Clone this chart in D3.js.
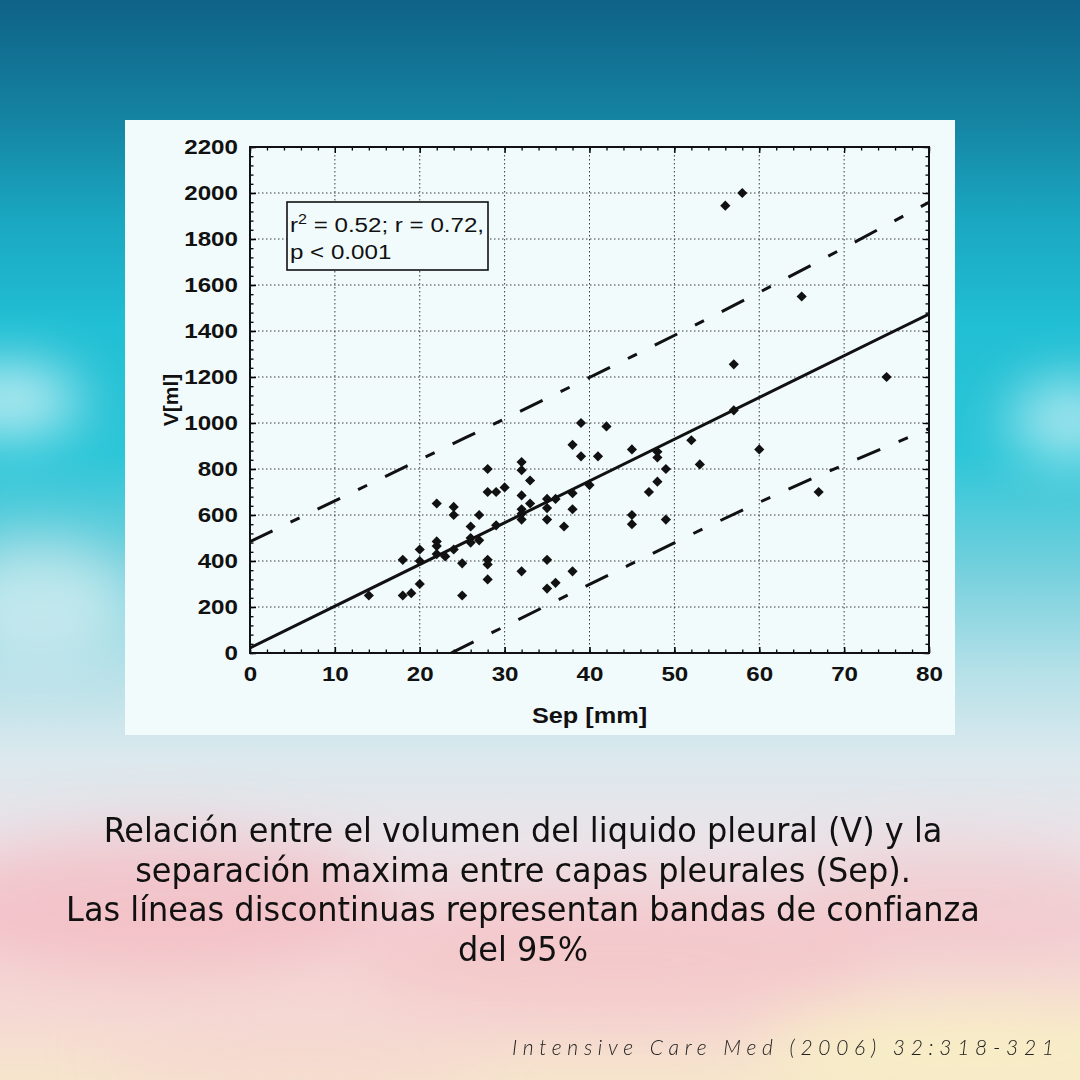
<!DOCTYPE html>
<html lang="es">
<head>
<meta charset="utf-8">
<title>Volumen pleural vs separación</title>
<script src="https://cdn.jsdelivr.net/npm/d3@7"></script>
<style>
  html, body { margin: 0; padding: 0; }
  body { width: 1080px; height: 1080px; overflow: hidden; }
</style>
</head>
<body>
<div id="chart"></div>
<script>
// Separación entre capas pleurales (mm) y volumen (ml) de cada paciente
const sep = [14, 18, 18, 19, 20, 20, 20, 22, 22, 22, 22, 23, 24, 24, 24, 25, 25,
  26, 26, 26, 27, 27, 28, 28, 28, 28, 28, 29, 29, 30, 32, 32, 32, 32, 32, 32, 32,
  33, 33, 35, 35, 35, 35, 35, 36, 36, 37, 38, 38, 38, 38, 39, 39, 40, 41, 42,
  45, 45, 45, 47, 48, 48, 48, 49, 49, 52, 53, 56, 57, 57, 58, 60, 65, 67, 75];
const vol = [250, 405, 250, 260, 450, 400, 300, 650, 485, 465, 430, 420, 635, 600, 450, 390, 250,
  550, 500, 480, 600, 490, 800, 700, 405, 385, 320, 700, 555, 720, 830, 795, 685, 625, 605, 580, 355,
  750, 650, 670, 630, 580, 405, 280, 670, 305, 550, 905, 695, 625, 355, 1000, 855, 730, 855, 985,
  885, 600, 560, 700, 875, 850, 745, 800, 580, 925, 820, 1945, 1255, 1055, 2000, 885, 1550, 700, 1200];

// Recta de regresión y bandas de confianza del 95%
const fitSep = [0, 80];
const fitVol = [22, 1474];
const upperSep = [0, 20, 40, 60, 80];
const upperVol = [484, 840, 1198, 1568, 1960];
const lowerSep = [23.7, 40, 60, 80];
const lowerVol = [0, 298, 655, 975];

// Ticks
const xTicks = [0, 10, 20, 30, 40, 50, 60, 70, 80];
const yTicks = [0, 200, 400, 600, 800, 1000, 1200, 1400, 1600, 1800, 2000, 2200];
const xMinor = d3.range(0, 81, 2);
const yMinor = d3.range(0, 2201, 40);

// Textos
const statsLine1 = ["r", "2", " = 0.52; r = 0.72,"];
const statsLine2 = "p < 0.001";
const xTitle = "Sep [mm]";
const yTitle = "V[ml]";
const caption = [
  "Relación entre el volumen del liquido pleural (V) y la",
  "separación maxima entre capas pleurales (Sep).",
  "Las líneas discontinuas representan bandas de confianza",
  "del 95%"
];
const cite = "Intensive Care Med (2006) 32:318-321";

// Tamaño
const width = 1080;
const height = 1080;

// Área del gráfico (marco negro)
const plot = { left: 250, top: 147, right: 929, bottom: 653 };
const stretch = "scale(1.15,1)";
const axisFont = "'Liberation Sans', Arial, sans-serif";

const svg = d3.select("#chart")
  .append("svg")
  .attr("width", width)
  .attr("height", height);

const defs = svg.append("defs");

// Fondo: cielo de turquesa a rosado
const sky = defs.append("linearGradient")
  .attr("id", "sky")
  .attr("x1", 0).attr("y1", 0).attr("x2", 0).attr("y2", 1);
[
  [0, "#0f6288"], [0.1, "#14809f"], [0.2, "#1aa6c0"], [0.3, "#21bfd4"],
  [0.42, "#2cc6d8"], [0.52, "#6fcfdc"], [0.62, "#b4e0e8"], [0.7, "#dbe9ee"],
  [0.78, "#ebe3e8"], [0.86, "#f4d2d6"], [0.94, "#f5d9d4"], [1, "#f6e5cc"]
].forEach(s => sky.append("stop").attr("offset", s[0]).attr("stop-color", s[1]));

defs.append("filter")
  .attr("id", "blur")
  .attr("x", "-50%").attr("y", "-50%").attr("width", "200%").attr("height", "200%")
  .append("feGaussianBlur")
  .attr("stdDeviation", 28);

svg.append("rect")
  .attr("width", width)
  .attr("height", height)
  .attr("fill", "url(#sky)");

// Nubes
const clouds = svg.append("g").attr("filter", "url(#blur)");
[
  [10, 400, 70, 35, "#ffffff", 0.7],
  [1070, 420, 60, 40, "#ffffff", 0.6],
  [40, 600, 90, 60, "#e6f3f5", 0.6],
  [160, 900, 220, 70, "#f2b5bb", 0.55],
  [620, 960, 260, 60, "#f3bcc0", 0.45],
  [960, 900, 160, 60, "#f1c0c4", 0.4],
  [980, 1050, 220, 50, "#f8f0c4", 0.8],
  [300, 1060, 200, 40, "#f6d2d2", 0.5]
].forEach(c => clouds.append("ellipse")
  .attr("cx", c[0]).attr("cy", c[1])
  .attr("rx", c[2]).attr("ry", c[3])
  .attr("fill", c[4]).attr("opacity", c[5]));

// Panel claro detrás del gráfico
svg.append("rect")
  .attr("x", 125)
  .attr("y", 120)
  .attr("width", 830)
  .attr("height", 615)
  .attr("fill", "#f1fbfc");

// Escalas
const xScale = d3.scaleLinear()
  .domain([0, 80])
  .range([plot.left, plot.right]);

const yScale = d3.scaleLinear()
  .domain([0, 2200])
  .range([plot.bottom, plot.top]);

// Rejilla punteada
const grid = svg.append("g")
  .attr("stroke", "#3a3a3a")
  .attr("stroke-width", 1)
  .attr("stroke-dasharray", "1.5,2.5");

grid.selectAll(".gx")
  .data(xTicks.slice(1, -1))
  .enter()
  .append("line")
  .attr("x1", d => xScale(d)).attr("x2", d => xScale(d))
  .attr("y1", plot.top).attr("y2", plot.bottom);

grid.selectAll(".gy")
  .data(yTicks.slice(1, -1))
  .enter()
  .append("line")
  .attr("y1", d => yScale(d)).attr("y2", d => yScale(d))
  .attr("x1", plot.left).attr("x2", plot.right);

// Ticks sin etiqueta hacia dentro (los cuatro lados)
function bareTicks(axis, pos, values, size) {
  svg.append("g")
    .attr("transform", pos)
    .call(axis.tickValues(values).tickSize(-size).tickFormat(""))
    .call(g => g.select(".domain").remove())
    .selectAll("line").attr("stroke-width", 1.3);
}

bareTicks(d3.axisBottom(xScale), `translate(0,${plot.bottom})`, xMinor, 3.5);
bareTicks(d3.axisTop(xScale), `translate(0,${plot.top})`, xMinor, 3.5);
bareTicks(d3.axisLeft(yScale), `translate(${plot.left},0)`, yMinor, 3.5);
bareTicks(d3.axisRight(yScale), `translate(${plot.right},0)`, yMinor, 3.5);
bareTicks(d3.axisTop(xScale), `translate(0,${plot.top})`, xTicks, 6);
bareTicks(d3.axisRight(yScale), `translate(${plot.right},0)`, yTicks, 6);

// Ejes con etiquetas
const xAxis = svg.append("g")
  .attr("transform", `translate(0,${plot.bottom})`)
  .call(d3.axisBottom(xScale).tickValues(xTicks).tickSize(-6).tickPadding(13)
    .tickFormat(d3.format("d")));

const yAxis = svg.append("g")
  .attr("transform", `translate(${plot.left},0)`)
  .call(d3.axisLeft(yScale).tickValues(yTicks).tickSize(-6).tickPadding(10.5)
    .tickFormat(d3.format("d")));

[xAxis, yAxis].forEach(ax => {
  ax.select(".domain").remove();
  ax.selectAll("line").attr("stroke-width", 1.5);
  ax.selectAll("text")
    .attr("font-family", axisFont)
    .attr("font-weight", "bold")
    .attr("font-size", 21)
    .attr("fill", "#111")
    .attr("transform", stretch);
});

// Marco
svg.append("rect")
  .attr("x", plot.left)
  .attr("y", plot.top)
  .attr("width", plot.right - plot.left)
  .attr("height", plot.bottom - plot.top)
  .attr("fill", "none")
  .attr("stroke", "#111")
  .attr("stroke-width", 2);

// Títulos de los ejes
svg.append("text")
  .attr("transform", `translate(${(plot.left + plot.right) / 2},723) ${stretch}`)
  .attr("text-anchor", "middle")
  .attr("font-family", axisFont)
  .attr("font-weight", "bold")
  .attr("font-size", 22)
  .attr("fill", "#111")
  .text(xTitle);

svg.append("text")
  .attr("transform", `translate(178,${(plot.top + plot.bottom) / 2}) rotate(-90)`)
  .attr("text-anchor", "middle")
  .attr("font-family", axisFont)
  .attr("font-weight", "bold")
  .attr("font-size", 21)
  .attr("fill", "#111")
  .text(yTitle);

// Líneas (recortadas al marco)
defs.append("clipPath")
  .attr("id", "clip")
  .append("rect")
  .attr("x", plot.left)
  .attr("y", plot.top)
  .attr("width", plot.right - plot.left)
  .attr("height", plot.bottom - plot.top);

const line = d3.line()
  .x(d => xScale(d[0]))
  .y(d => yScale(d[1]))
  .curve(d3.curveMonotoneX);

const lines = svg.append("g")
  .attr("clip-path", "url(#clip)")
  .attr("fill", "none")
  .attr("stroke", "#111")
  .attr("stroke-width", 3);

lines.append("path")
  .attr("d", line(d3.zip(fitSep, fitVol)));

lines.append("path")
  .attr("d", line(d3.zip(upperSep, upperVol)))
  .attr("stroke-dasharray", "25,20,10,20");

lines.append("path")
  .attr("d", line(d3.zip(lowerSep, lowerVol)))
  .attr("stroke-dasharray", "25,20,10,20");

// Puntos (rombos)
const diamond = d3.symbol().type(d3.symbolSquare).size(52);

svg.append("g")
  .selectAll("path")
  .data(d3.zip(sep, vol))
  .enter()
  .append("path")
  .attr("d", diamond)
  .attr("transform", d => `translate(${xScale(d[0])},${yScale(d[1])}) rotate(45)`)
  .attr("fill", "#111");

// Recuadro con estadísticos
svg.append("rect")
  .attr("x", 287)
  .attr("y", 202)
  .attr("width", 201)
  .attr("height", 68)
  .attr("fill", "#f1fbfc")
  .attr("stroke", "#111")
  .attr("stroke-width", 1.6);

const s1 = svg.append("text")
  .attr("transform", `translate(290,232) ${stretch}`)
  .attr("font-family", axisFont)
  .attr("font-size", 21)
  .attr("fill", "#111");
s1.append("tspan").text(statsLine1[0]);
s1.append("tspan").attr("dy", -8).attr("font-size", 14).text(statsLine1[1]);
s1.append("tspan").attr("dy", 8).text(statsLine1[2]);

svg.append("text")
  .attr("transform", `translate(290,259) ${stretch}`)
  .attr("font-family", axisFont)
  .attr("font-size", 21)
  .attr("fill", "#111")
  .text(statsLine2);

// Pie de figura
svg.append("g")
  .selectAll("text")
  .data(caption)
  .enter()
  .append("text")
  .attr("transform", (d, i) => `translate(523,${842 + i * 39.7}) scale(1.045,1)`)
  .attr("text-anchor", "middle")
  .attr("font-family", "'Liberation Sans Narrow', 'DejaVu Sans Condensed', sans-serif")
  .attr("font-size", 34)
  .attr("fill", "#111")
  .text(d => d);

svg.append("text")
  .attr("x", 512)
  .attr("y", 1055)
  .attr("font-family", "Lato, 'Open Sans', sans-serif")
  .attr("font-style", "italic")
  .attr("font-weight", 300)
  .attr("font-size", 21)
  .attr("letter-spacing", 5.7)
  .attr("fill", "#222")
  .text(cite);
</script>
</body>
</html>
